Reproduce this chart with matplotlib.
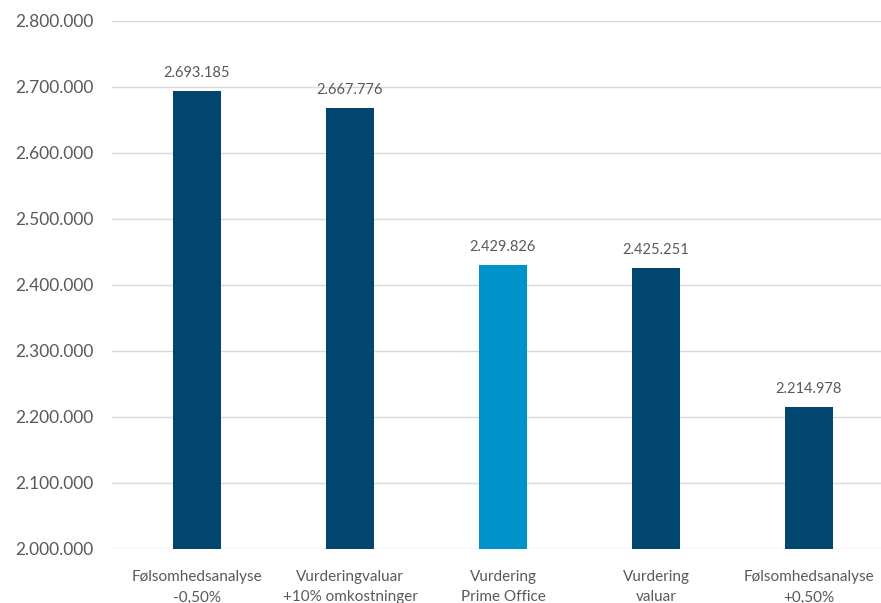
import matplotlib
matplotlib.use("Agg")
import matplotlib.pyplot as plt
from matplotlib.ticker import FuncFormatter

categories = ["Følsomhedsanalyse\n-0,50%", "Vurderingvaluar\n+10% omkostninger",
              "Vurdering\nPrime Office", "Vurdering\nvaluar", "Følsomhedsanalyse\n+0,50%"]
values = [2693185, 2667776, 2429826, 2425251, 2214978]
bar_colors = ["#00466E", "#00466E", "#0093C9", "#00466E", "#00466E"]

plt.rcParams['font.family'] = ['Lato', 'DejaVu Sans']
TXT = "#595959"

def dotfmt(v, pos=None):
    return f"{int(round(v)):,}".replace(",", ".")

fig = plt.figure(figsize=(8.81, 6.03), dpi=100)
ax = fig.add_axes([112/881, 1 - 549/603, 1 - 112/881, (549 - 21)/603])

x = list(range(len(categories)))
bars = ax.bar(x, values, width=0.32, color=bar_colors, zorder=3)
for xi, v in zip(x, values):
    ax.annotate(dotfmt(v), (xi, v), xytext=(0, 8), textcoords="offset points",
                ha="center", va="bottom", fontsize=10.5, color=TXT)

ax.set_ylim(2000000, 2800000)
ax.set_yticks(range(2000000, 2800001, 100000))
ax.yaxis.set_major_formatter(FuncFormatter(dotfmt))
ax.set_xlim((112 - 197) / 153, (881 - 197) / 153)
ax.set_xticks(x)
ax.set_xticklabels(categories, fontsize=11, color=TXT, linespacing=1.6)
ax.tick_params(axis="x", length=0, pad=15)
ax.tick_params(axis="y", length=0, pad=13, labelsize=12.5, labelcolor=TXT)
ax.grid(axis="y", color="#D9D9D9", linewidth=1, zorder=0)
for s in ax.spines.values():
    s.set_visible(False)

fig.savefig("out.png", dpi=100)
